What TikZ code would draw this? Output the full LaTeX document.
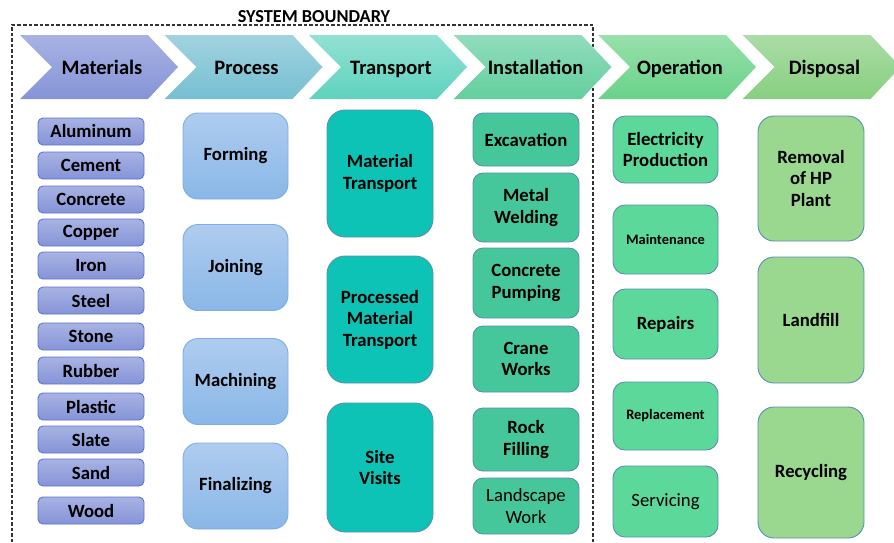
\documentclass[tikz,border=0pt]{standalone}
\usepackage{fontspec}
\setmainfont{Carlito}
\usetikzlibrary{positioning}
\tikzset{
  phase/.style = {font=\bfseries\fontsize{20.5}{24}\selectfont, text=black, anchor=base},
  stage/.style = {draw, align=center, inner sep=0pt, line width=0.9pt, text=black,
                  font=\bfseries\fontsize{18.7}{21.5}\selectfont},
  small/.style = {font=\bfseries\fontsize{14.4}{16}\selectfont},
  plain/.style = {font=\fontsize{18.7}{21.5}\selectfont}
}

\begin{document}
\begin{tikzpicture}[x=1pt, y=-1pt]
  \definecolor{matTop}{HTML}{A8B2E3}
  \definecolor{matBot}{HTML}{8594D7}
  \definecolor{proTop}{HTML}{A2D3DF}
  \definecolor{proBot}{HTML}{75BFD2}
  \definecolor{traTop}{HTML}{93E1D3}
  \definecolor{traBot}{HTML}{5ED2BE}
  \definecolor{insTop}{HTML}{92DCBE}
  \definecolor{insBot}{HTML}{63CF9D}
  \definecolor{opeTop}{HTML}{98E0AA}
  \definecolor{opeBot}{HTML}{69D289}
  \definecolor{disTop}{HTML}{ABDCA6}
  \definecolor{disBot}{HTML}{88CF80}
  \definecolor{matLine}{HTML}{5A74D6}
  \definecolor{proLine}{HTML}{7AAEE5}
  \definecolor{boxLine}{HTML}{5A8FB0}
  \tikzset{
    matbox/.style={stage, minimum width=106pt, minimum height=27pt, rounded corners=5pt,
                   top color=matTop, bottom color=matBot, draw=matLine},
    probox/.style={stage, minimum width=105pt, minimum height=86pt, rounded corners=15pt,
                   top color={rgb,255:red,175;green,204;blue,239}, bottom color={rgb,255:red,137;green,183;blue,231},
                   draw=proLine},
    trabox/.style={stage, minimum width=106pt, rounded corners=18pt,
                   fill={rgb,255:red,13;green,195;blue,182}, draw=boxLine},
    insbox/.style={stage, minimum width=106pt, rounded corners=10pt,
                   fill={rgb,255:red,70;green,199;blue,155}, draw=boxLine},
    opebox/.style={stage, minimum width=105pt, rounded corners=12pt,
                   fill={rgb,255:red,92;green,216;blue,154}, draw=boxLine},
    disbox/.style={stage, minimum width=106pt, rounded corners=16pt,
                   fill={rgb,255:red,154;green,215;blue,143}, draw=boxLine}
  }

  \def\Htop{35}
  \def\Hbot{99}

  \useasboundingbox (0,0) rectangle (894,542);

  % system boundary
  \draw[line width=1.1pt, dash pattern=on 3.5pt off 2pt, black!80]
    (12,542) |- (593,25) -- (593,542);
  \node[font=\bfseries\fontsize{18.3}{21}\selectfont, anchor=base] (sysb) at (314,22) {SYSTEM BOUNDARY};

  % phase chevrons
  \shade[top color=matTop, bottom color=matBot] (20,\Htop) -- (148,\Htop) -- (178,67) -- (148,\Hbot) -- (20,\Hbot) -- (52,67) -- cycle;
  \shade[top color=proTop, bottom color=proBot] (164.5,\Htop) -- (292.5,\Htop) -- (322.5,67) -- (292.5,\Hbot) -- (164.5,\Hbot) -- (196.5,67) -- cycle;
  \shade[top color=traTop, bottom color=traBot] (309,\Htop) -- (437,\Htop) -- (467,67) -- (437,\Hbot) -- (309,\Hbot) -- (341,67) -- cycle;
  \shade[top color=insTop, bottom color=insBot] (453.5,\Htop) -- (581.5,\Htop) -- (611.5,67) -- (581.5,\Hbot) -- (453.5,\Hbot) -- (485.5,67) -- cycle;
  \shade[top color=opeTop, bottom color=opeBot] (598,\Htop) -- (726,\Htop) -- (756,67) -- (726,\Hbot) -- (598,\Hbot) -- (630,67) -- cycle;
  \shade[top color=disTop, bottom color=disBot] (742.5,\Htop) -- (870.5,\Htop) -- (900.5,67) -- (870.5,\Hbot) -- (742.5,\Hbot) -- (774.5,67) -- cycle;

  \node[phase] (materials)    at (102,74)   {Materials};
  \node[phase] (process)      at (246.5,74) {Process};
  \node[phase] (transport)    at (391,74)   {Transport};
  \node[phase] (installation) at (535.5,74) {Installation};
  \node[phase] (operation)    at (680,74)   {Operation};
  \node[phase] (disposal)     at (824.5,74) {Disposal};

  % materials
  \node[matbox] (aluminum) at (91,131.5) {Aluminum};
  \node[matbox] (cement)   at (91,165.5) {Cement};
  \node[matbox] (concrete) at (91,199.5) {Concrete};
  \node[matbox] (copper)   at (91,232.5) {Copper};
  \node[matbox] (iron)     at (91,265.5) {Iron};
  \node[matbox] (steel)    at (91,300.5) {Steel};
  \node[matbox] (stone)    at (91,336.5) {Stone};
  \node[matbox] (rubber)   at (91,370.5) {Rubber};
  \node[matbox] (plastic)  at (91,406.5) {Plastic};
  \node[matbox] (slate)    at (91,439.5) {Slate};
  \node[matbox] (sand)     at (91,472.5) {Sand};
  \node[matbox] (wood)     at (91,510.5) {Wood};

  % process
  \node[probox] (forming)    at (235.5,156)   {Forming};
  \node[probox] (joining)    at (235.5,267.5) {Joining};
  \node[probox] (machining)  at (235.5,381.5) {Machining};
  \node[probox] (finalizing) at (235.5,486)   {Finalizing};

  % transport
  \node[trabox, minimum height=127pt] (mattrans)  at (380,173.5) {Material\\Transport};
  \node[trabox, minimum height=127pt] (protrans)  at (380,319.5) {Processed\\Material\\Transport};
  \node[trabox, minimum height=129pt] (sitevisit) at (380,467.5) {Site\\Visits};

  % installation
  \node[insbox, minimum height=53pt] (excavation) at (526,139.5) {Excavation};
  \node[insbox, minimum height=69pt] (welding)    at (526,207.5) {Metal\\Welding};
  \node[insbox, minimum height=70pt] (pumping)    at (526,283)   {Concrete\\Pumping};
  \node[insbox, minimum height=66pt] (crane)      at (526,359)   {Crane\\Works};
  \node[insbox, minimum height=63pt] (rockfill)   at (526,439.5) {Rock\\Filling};
  \node[insbox, minimum height=56pt, plain] (landscape) at (526,506) {Landscape\\Work};

  % operation
  \node[opebox, minimum height=67pt] (electricity) at (665.5,149.5) {Electricity\\Production};
  \node[opebox, minimum height=69pt, small] (maintenance) at (665.5,239.5) {Maintenance};
  \node[opebox, minimum height=70pt] (repairs)     at (665.5,324)   {Repairs};
  \node[opebox, minimum height=68pt, small] (replacement) at (665.5,416) {Replacement};
  \node[opebox, minimum height=71pt, plain] (servicing) at (665.5,501.5) {Servicing};

  % disposal
  \node[disbox, minimum height=125pt] (removal)   at (811,178.5) {Removal\\of HP\\Plant};
  \node[disbox, minimum height=126pt] (landfill)  at (811,320)   {Landfill};
  \node[disbox, minimum height=131pt] (recycling) at (811,472.5) {Recycling};
\end{tikzpicture}
\end{document}
